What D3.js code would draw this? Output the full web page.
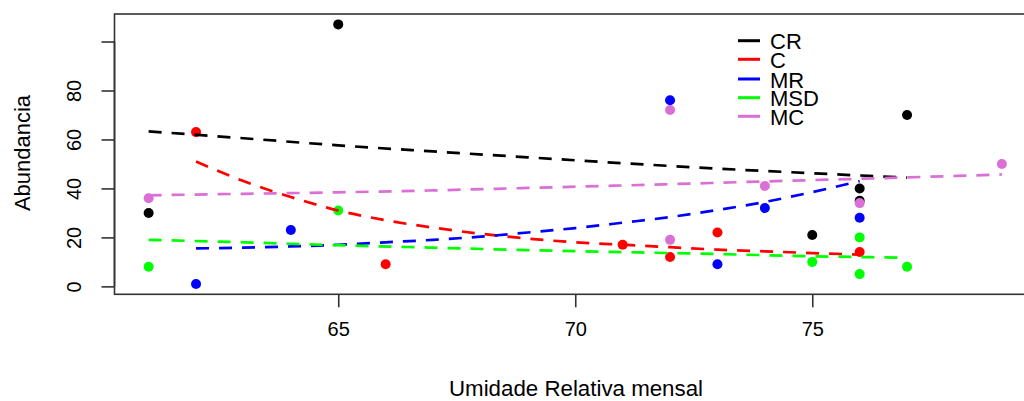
<!DOCTYPE html>
<html>
<head>
<meta charset="utf-8">
<script src="https://cdn.jsdelivr.net/npm/d3@7"></script>
<style>
  html, body { margin: 0; padding: 0; background: #fff; }
  svg { display: block; }
  text { font-family: "Liberation Sans", Arial, sans-serif; fill: #000; }
</style>
</head>
<body>
<svg id="chart" width="1024" height="401"></svg>
<script>
// ---- Data ----
const seriesNames = ["CR", "C", "MR", "MSD", "MC"];
const seriesColors = ["#000000", "#FF0000", "#0000FF", "#00FF00", "#DA70D6"];

const xCR  = [61, 65, 75, 76, 76, 77];
const yCR  = [30, 107, 21, 40, 35, 70];
const xC   = [62, 66, 71, 72, 73, 76];
const yC   = [63, 9, 17, 12, 22, 14];
const xMR  = [62, 64, 72, 73, 74, 76];
const yMR  = [1, 23, 76, 9, 32, 28];
const xMSD = [61, 65, 75, 76, 76, 77];
const yMSD = [8, 31, 10, 20, 5, 8];
const xMC  = [61, 72, 72, 74, 76, 79];
const yMC  = [36, 72, 19, 41, 34, 50];

// fitted trend curves (dashed)
const fitXCR  = [61, 63, 65, 67, 69, 71, 73, 75, 77];
const fitYCR  = [63.3, 60.5, 57.6, 55.1, 52.7, 50.3, 48.1, 46.2, 44.4];
const fitXC   = [62, 63, 64, 65, 66, 67, 68, 69, 70, 71, 72, 73, 74, 75, 76];
const fitYC   = [51, 43, 36.5, 31, 27, 24, 21.5, 19.5, 18, 17, 16, 15, 14.3, 13.6, 13];
const fitXMR  = [62, 63, 64, 65, 66, 67, 68, 69, 70, 71, 72, 73, 74, 75, 76];
const fitYMR  = [15.5, 15.8, 16.3, 17, 18, 19, 20.3, 22, 23.8, 26, 28.3, 31.2, 34.5, 38.5, 43];
const fitXMSD = [61, 63, 65, 67, 69, 71, 73, 75, 77];
const fitYMSD = [19, 18, 16.8, 15.8, 14.8, 14, 13.2, 12.3, 11.7];
const fitXMC  = [61, 63, 65, 67, 69, 71, 73, 75, 77, 79];
const fitYMC  = [37.2, 37.8, 38.4, 39.2, 40.2, 41.2, 42.3, 43.4, 44.5, 45.7];

const xTicks = [65, 70, 75];
const yTicks = [0, 20, 40, 60, 80, 100];
const yTickLabels = ["0", "20", "40", "60", "80", ""];

const xTitle = "Umidade Relativa mensal";
const yTitle = "Abundancia";

// ---- Build ----
const pointsX = [xCR, xC, xMR, xMSD, xMC];
const pointsY = [yCR, yC, yMR, yMSD, yMC];
const fitsX = [fitXCR, fitXC, fitXMR, fitXMSD, fitXMC];
const fitsY = [fitYCR, fitYC, fitYMR, fitYMSD, fitYMC];

const svg = d3.select("#chart");
const pLeft = 114.5, pRight = 1036, pTop = 14, pBottom = 294.3;

const x = d3.scaleLinear().domain([60.28, 79.72]).range([pLeft, pRight]);
const y = d3.scaleLinear().domain([-3.24, 111.24]).range([pBottom, pTop]);

// points
seriesNames.forEach((name, i) => {
  const pts = pointsX[i].map((xv, j) => ({x: xv, y: pointsY[i][j]}));
  svg.append("g").selectAll("circle").data(pts).join("circle")
    .attr("cx", d => x(d.x)).attr("cy", d => y(d.y)).attr("r", 5)
    .attr("fill", seriesColors[i]);
});

// dashed fit lines
const line = d3.line().x(d => x(d.x)).y(d => y(d.y)).curve(d3.curveMonotoneX);
seriesNames.forEach((name, i) => {
  const pts = fitsX[i].map((xv, j) => ({x: xv, y: fitsY[i][j]}));
  svg.append("path").datum(pts).attr("d", line)
    .attr("fill", "none").attr("stroke", seriesColors[i])
    .attr("stroke-width", 2.7).attr("stroke-dasharray", "13,10");
});

// box
svg.append("rect").attr("x", pLeft).attr("y", pTop)
  .attr("width", pRight - pLeft).attr("height", pBottom - pTop)
  .attr("fill", "none").attr("stroke", "#333").attr("stroke-width", 1.6);

// x axis
const xAxis = d3.axisBottom(x).tickValues(xTicks).tickSize(13).tickPadding(15)
  .tickFormat(d3.format("d"));
const gx = svg.append("g").attr("transform", `translate(0,${pBottom})`).call(xAxis);
gx.select(".domain").remove();
gx.selectAll("line").attr("stroke", "#333").attr("stroke-width", 1.6);
gx.selectAll("text").attr("font-size", 20).attr("font-family", "Liberation Sans, Arial, sans-serif");

// y axis
const yAxis = d3.axisLeft(y).tickValues(yTicks).tickSize(13).tickPadding(0)
  .tickFormat((d, i) => yTickLabels[i]);
const gy = svg.append("g").attr("transform", `translate(${pLeft},0)`).call(yAxis);
gy.select(".domain").attr("stroke", "#333").attr("stroke-width", 1.6)
  .attr("d", `M0,${y(0)}V${y(100)}`);
gy.selectAll("line").attr("stroke", "#333").attr("stroke-width", 1.6);
gy.selectAll("text")
  .attr("font-size", 20).attr("font-family", "Liberation Sans, Arial, sans-serif")
  .attr("x", null).attr("y", null).attr("dy", null)
  .attr("text-anchor", "middle")
  .attr("transform", "translate(-34,0) rotate(-90)");

// titles
svg.append("text").attr("x", 576).attr("y", 396).attr("text-anchor", "middle")
  .attr("font-size", 22.3).text(xTitle);
svg.append("text").attr("transform", "translate(30,153) rotate(-90)")
  .attr("text-anchor", "middle").attr("font-size", 22).text(yTitle);

// legend
const legY = [40.7, 59.3, 79, 97.7, 116.3];
seriesNames.forEach((name, i) => {
  svg.append("line").attr("x1", 738).attr("x2", 760)
    .attr("y1", legY[i]).attr("y2", legY[i])
    .attr("stroke", seriesColors[i]).attr("stroke-width", 3);
  svg.append("text").attr("x", 770).attr("y", legY[i] + 8.5)
    .attr("font-size", 22).text(name);
});
</script>
</body>
</html>
